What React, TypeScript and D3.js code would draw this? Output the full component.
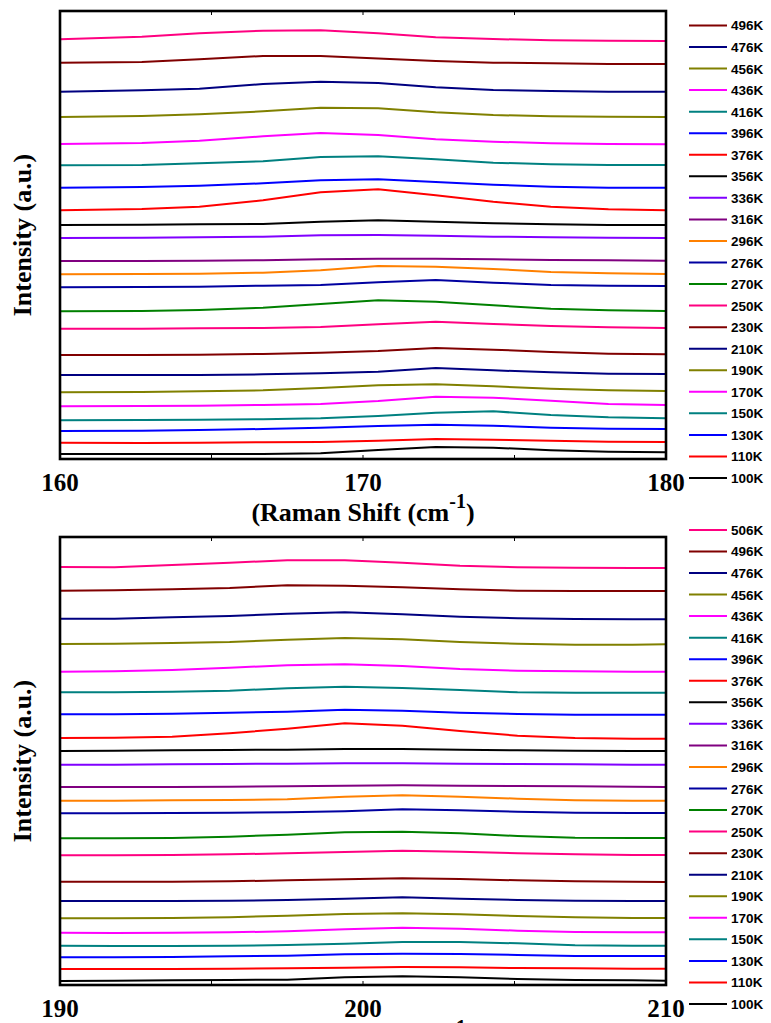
import React from "react";
import * as d3 from "d3";

// ---------- labels & colours (top of legend to bottom) ----------
const temps = ["506K","496K","476K","456K","436K","416K","396K","376K","356K","336K","316K","296K","276K","270K","250K","230K","210K","190K","170K","150K","130K","110K","100K"];
const colors = ["#ff0080","#800000","#000080","#808000","#ff00ff","#008080","#0000ff","#ff0000","#000000","#8000ff","#800080","#ff8000","#0000a0","#008000","#ff0080","#800000","#000080","#808000","#ff00ff","#008080","#0000ff","#ff0000","#000000"];

// ---------- panel 1 (160–180 cm-1) ----------
const xTop = [160, 162.7, 164.6, 166.7, 168.6, 170.5, 172.4, 174.3, 176.2, 178.1, 180];
const xTicksTop = [160, 170, 180];
const t506 = [420.7, 423.3, 426.7, 429.3, 429.7, 426.8, 422.7, 421, 419.7, 419.3, 419];
const t496 = [397.3, 398, 400.7, 404, 404, 401.5, 399, 397.3, 396.7, 396, 396];
const t476 = [368.3, 369.7, 371.3, 376, 378.3, 377, 372.7, 370, 369, 368.3, 368.3];
const t456 = [343, 344, 345.7, 348.7, 352.3, 351.7, 347.7, 345, 343.7, 343.3, 343];
const t436 = [316, 317, 319.3, 323.7, 327, 325, 320.7, 318.3, 316.7, 316, 315.7];
const t416 = [294.7, 295, 296.7, 298.7, 303, 303.7, 300.7, 297.3, 295.7, 295, 295];
const t396 = [272.3, 273, 274.3, 276.7, 279.7, 280.7, 278, 275.3, 273.3, 272.3, 272.3];
const t376 = [249.7, 251, 253.3, 259.7, 267.7, 270.7, 264.7, 258.3, 253.3, 250.7, 249.7];
const t356 = [235, 235.3, 235.7, 236, 238.3, 239.7, 238.3, 236.7, 235.7, 235, 235];
const t336 = [222, 222.3, 222.7, 223.3, 224.7, 225, 224.3, 223.3, 222.7, 222.3, 222];
const t316 = [199, 199, 199.3, 199.7, 200.7, 201.3, 201.3, 200.7, 200, 199.7, 199.3];
const t296 = [185.7, 186, 186.3, 187.3, 189.7, 194, 193.3, 191, 188, 186.7, 186];
const t276 = [172.7, 173, 173.3, 174.3, 175, 177.7, 180, 177.3, 175, 174.3, 174];
const t270 = [148.7, 149, 150, 152.3, 156, 159.7, 158.3, 154.7, 151.3, 149.7, 149];
const t250 = [131.3, 131.3, 131.7, 132, 133, 135.7, 138.3, 136, 134, 132.7, 132];
const t230 = [105, 105, 105.3, 106, 107.3, 109, 112, 110.3, 108, 106.3, 105.7];
const t210 = [85, 85, 85, 85.7, 86.7, 88.3, 92, 89.7, 87.7, 86.3, 86];
const t190 = [67.7, 68, 68.7, 69.7, 72, 74.7, 75.7, 73.7, 71.3, 69.7, 69];
const t170 = [53.7, 54, 54.3, 55, 56, 59, 63.3, 62.3, 59.3, 56, 55];
const t150 = [39.7, 40, 40.3, 40.7, 41.7, 44, 47.3, 48.7, 45, 42.7, 41.7];
const t130 = [29, 29.3, 30, 31, 32.3, 34, 35.3, 34.3, 32.3, 31.3, 31];
const t110 = [17.3, 17, 17.3, 17.7, 18, 19.3, 21, 20.3, 19.3, 18.3, 18];
const t100 = [6, 6, 6, 6, 6.7, 10, 13, 12.3, 9.7, 8.3, 7.7];
const topSeries = [t506, t496, t476, t456, t436, t416, t396, t376, t356, t336, t316, t296, t276, t270, t250, t230, t210, t190, t170, t150, t130, t110, t100];

// ---------- panel 2 (190–210 cm-1) ----------
const xBottom = [190, 191.8, 193.7, 195.6, 197.5, 199.4, 201.3, 203.2, 205.1, 207.0, 208.9, 210];
const xTicksBottom = [190, 200, 210];
const b506 = [419, 418.7, 421, 423.3, 425.7, 425.7, 423.3, 420.3, 418.7, 418.3, 418, 418];
const b496 = [395.3, 395.7, 396.7, 398, 400.7, 400.3, 398.7, 396.7, 395.3, 395, 395, 395];
const b476 = [367.3, 367.3, 368.7, 370, 372.3, 373.7, 371.7, 369.3, 367.7, 367, 366.7, 366.7];
const b456 = [342, 342.3, 343, 344, 346.3, 348, 346.7, 344, 342.3, 341.3, 341.3, 341.7];
const b436 = [314.3, 314.7, 316, 318.3, 320.7, 321.7, 320, 317, 315.3, 314.7, 314.3, 314.3];
const b416 = [293.7, 293.7, 294.3, 295.3, 297.7, 299.3, 298, 296, 293.7, 293.3, 293.3, 293.3];
const b396 = [271.7, 271.7, 272.3, 273.3, 274.3, 276.3, 275.3, 273.3, 272, 271.3, 271.3, 271.3];
const b376 = [248, 248.3, 249.3, 252.7, 257.3, 262.7, 260.3, 255, 250.3, 248, 247.3, 247.3];
const b356 = [235, 235.3, 235.7, 236, 236.3, 237, 237, 236.3, 235.7, 235.3, 235, 235];
const b336 = [221.3, 221.3, 221.7, 222, 222.3, 222.7, 222.7, 222.3, 222, 221.7, 221.3, 221.3];
const b316 = [199, 199, 199, 199.3, 199.7, 200.3, 200.7, 200.3, 200, 199.7, 199.3, 199];
const b296 = [185.3, 185.3, 185.7, 186, 186.7, 189.3, 190.7, 189.3, 187.3, 185.7, 185.3, 185.3];
const b276 = [172.7, 172.7, 173, 173.3, 173.7, 174.7, 176.7, 175.7, 174.3, 173.3, 173, 173];
const b270 = [147.7, 147.7, 148, 149.3, 151.3, 153.7, 154.3, 152.7, 150, 148.3, 148, 148];
const b250 = [130.7, 130.7, 131, 131.7, 132.7, 134, 135.3, 134.3, 132.7, 131.7, 131, 131];
const b230 = [104.3, 104.3, 104.3, 104.7, 105.7, 106.7, 107.7, 107, 105.7, 104.7, 104.3, 104];
const b210 = [85, 85, 85, 85.3, 86, 87.3, 88.7, 87.3, 86, 85.3, 85, 85];
const b190 = [67.7, 67.7, 68, 68.7, 70.3, 72, 72.7, 71.7, 70, 68.7, 68, 68];
const b170 = [53.3, 53, 53.3, 53.7, 54.7, 56.7, 58.3, 57.3, 55.3, 54, 53.7, 53.7];
const b150 = [40.3, 40, 40, 40.3, 41, 42.3, 44, 44, 42.7, 40.7, 40.3, 40.3];
const b130 = [28.7, 28.7, 29, 29.7, 30.3, 31.7, 32.3, 32, 31, 30, 30, 30];
const b110 = [17, 17, 17, 17.3, 17.7, 18.3, 19, 18.7, 18, 17.7, 17.3, 17.3];
const b100 = [5, 5.3, 5.7, 6, 6.3, 8.7, 9.7, 8.7, 7, 6, 5.7, 5.3];
const bottomSeries = [b506, b496, b476, b456, b436, b416, b396, b376, b356, b336, b316, b296, b276, b270, b250, b230, b210, b190, b170, b150, b130, b110, b100];

const SERIF = "'Liberation Serif', 'Times New Roman', Times, serif";
const SANS = "'Liberation Sans', Arial, Helvetica, sans-serif";

type PanelProps = {
  xs: number[];
  series: number[][];
  xTicks: number[];
  top: number;
  bottom: number;
  legendSkip: number;
};

function Panel({ xs, series, xTicks, top, bottom, legendSkip }: PanelProps) {
  const left = 60;
  const right = 666;
  const x0 = xTicks[0];
  const x1 = xTicks[xTicks.length - 1];
  const x = d3.scaleLinear().domain([x0, x1]).range([left, right]);
  const y = d3.scaleLinear().domain([1, 449]).range([bottom, top]);
  const line = d3
    .line<number>()
    .x((_, i) => x(xs[i]))
    .y((v) => y(v))
    .curve(d3.curveLinear);
  const minor = d3.range(x0, x1 + 0.01, 5);
  const cx = (left + right) / 2;
  const cy = (top + bottom) / 2;
  const step = 21.55;
  const n = temps.length;
  return (
    <g>
      {series.map((s, i) => (
        <path key={i} d={line(s) || ""} fill="none" stroke={colors[i]} strokeWidth={2} />
      ))}
      <rect x={left} y={top} width={right - left} height={bottom - top} fill="none" stroke="#000" strokeWidth={2.6} />
      {minor.map((t) => (
        <g key={t}>
          <line x1={x(t)} x2={x(t)} y1={bottom} y2={bottom - 4} stroke="#000" strokeWidth={1} />
          <line x1={x(t)} x2={x(t)} y1={top} y2={top + 4} stroke="#000" strokeWidth={1} />
        </g>
      ))}
      {xTicks.map((t) => (
        <text key={t} x={x(t)} y={bottom + 32} textAnchor="middle" fontFamily={SERIF} fontWeight="bold" fontSize={25}>
          {t}
        </text>
      ))}
      <text x={cx} y={bottom + 62} textAnchor="middle" fontFamily={SERIF} fontWeight="bold" fontSize={26}>
        (Raman Shift (cm
        <tspan dy={-13} fontSize={20}>-1</tspan>
        <tspan dy={13}>)</tspan>
      </text>
      <text
        transform={`translate(31,${cy}) rotate(-90)`}
        textAnchor="middle"
        fontFamily={SERIF}
        fontWeight="bold"
        fontSize={26}
      >
        Intensity (a.u.)
      </text>
      {temps.map((lab, i) => {
        if (i < legendSkip) return null;
        const ly = bottom + 19 - (n - 1 - i) * step;
        return (
          <g key={lab}>
            <line x1={689} x2={727} y1={ly} y2={ly} stroke={colors[i]} strokeWidth={2} />
            <text x={731} y={ly + 5} fontFamily={SANS} fontWeight="bold" fontSize={13.5} fill="#000">
              {lab}
            </text>
          </g>
        );
      })}
    </g>
  );
}

export default function App() {
  return (
    <svg
      width={771}
      height={1023}
      style={{ position: "absolute", left: 0, top: 0, background: "#fff" }}
    >
      <rect x={0} y={0} width={771} height={1023} fill="#fff" />
      <Panel xs={xTop} series={topSeries} xTicks={xTicksTop} top={11} bottom={459} legendSkip={1} />
      <Panel xs={xBottom} series={bottomSeries} xTicks={xTicksBottom} top={537} bottom={985} legendSkip={0} />
    </svg>
  );
}
